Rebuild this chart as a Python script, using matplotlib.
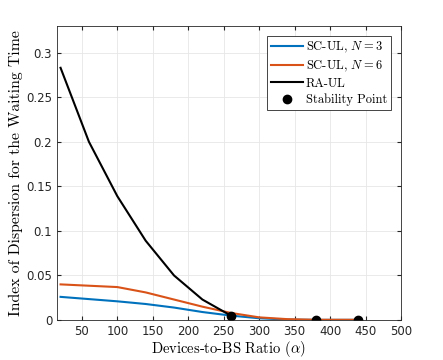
import matplotlib
matplotlib.use("Agg")
import matplotlib.pyplot as plt

# Devices-to-BS ratio samples
alpha = [20, 60, 100, 140, 180, 220, 260, 300, 340, 380, 420, 440]
sc_ul_n3 = [0.026, 0.0235, 0.021, 0.018, 0.014, 0.009, 0.005, 0.002, 0.0005, 0.0002, 0.0002, 0.0002]
sc_ul_n6 = [0.040, 0.0385, 0.037, 0.031, 0.023, 0.015, 0.008, 0.003, 0.001, 0.0003, 0.0003, 0.0003]
alpha_ra = [20, 60, 100, 140, 180, 220, 260]
ra_ul = [0.283, 0.200, 0.139, 0.089, 0.050, 0.023, 0.005]
stab_x = [260, 380, 440]
stab_y = [0.005, 0.0003, 0.0003]

plt.rcParams['mathtext.fontset'] = 'cm'
serif = 'cmr10'

fig = plt.figure(figsize=(4.43, 3.6), dpi=100)
ax = fig.add_axes([0.1287, 0.111, 0.7765, 0.817])

ax.plot(alpha, sc_ul_n3, color='#0072BD', lw=1.5, label=r'SC-UL, $N=3$')
ax.plot(alpha, sc_ul_n6, color='#D95319', lw=1.5, label=r'SC-UL, $N=6$')
ax.plot(alpha_ra, ra_ul, color='black', lw=1.5, label='RA-UL')
ax.plot(stab_x, stab_y, 'o', color='black', ms=6, label='Stability Point')

ax.set_xlim(15, 500)
ax.set_ylim(0, 0.33)
ax.set_xticks(range(50, 501, 50))
ax.set_yticks([0, 0.05, 0.1, 0.15, 0.2, 0.25, 0.3])
ax.set_yticklabels(['0', '0.05', '0.1', '0.15', '0.2', '0.25', '0.3'])
ax.tick_params(direction='in', top=True, right=True, labelsize=8.5, colors='#262626', length=3)
ax.grid(True, color='#e6e6e6', lw=0.6)
ax.set_axisbelow(True)
for s in ax.spines.values():
    s.set_color('#262626')
    s.set_linewidth(0.6)

ax.set_xlabel(r'Devices-to-BS Ratio ($\alpha$)', fontfamily=serif, fontsize=10.5, labelpad=1)
ax.set_ylabel('Index of Dispersion for the Waiting Time', fontfamily=serif, fontsize=11.3, labelpad=2)

leg = ax.legend(loc='upper right', prop={'family': serif, 'size': 9}, fancybox=False,
                edgecolor='#262626', framealpha=1, borderpad=0.3, labelspacing=0.3,
                handlelength=2.6, handletextpad=0.2, borderaxespad=0.8)
leg.get_frame().set_linewidth(0.6)

fig.savefig('out.png', dpi=100)
